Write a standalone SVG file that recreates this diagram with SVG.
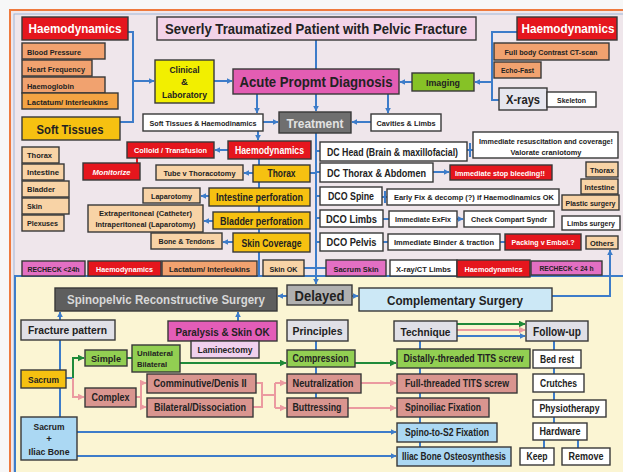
<svg xmlns="http://www.w3.org/2000/svg" width="623" height="472" viewBox="0 0 623 472">
<defs>
<style>
.t{font-family:"Liberation Sans",Arial,sans-serif;font-weight:bold;fill:#222;text-anchor:middle}
.l{text-anchor:start}
.wt{fill:#fff}
.bx{stroke:#383838;stroke-width:1.4}
.red{fill:#e5161d}
.sal{fill:#f1a26f}
.org{fill:#f4a443}
.gold{fill:#f6c111}
.tan{fill:#f8d3a6}
.wh{fill:#fff}
.gry{fill:#e0e0e7}
.grn{fill:#92cf52}
.pnk{fill:#e36fc3}
.rose{fill:#d9958f}
.lb{fill:#abd8f3}
.s7{font-size:7px}
.s10{font-size:10.5px}
.s9{font-size:9.5px}
.c{fill:none;stroke:#3d7cc9;stroke-width:2}
.cg{fill:none;stroke:#1f8a3a;stroke-width:2}
.cp{fill:none;stroke:#eb9aa0;stroke-width:2}
.cr{fill:none;stroke:#e5161d;stroke-width:2}
</style>
<marker id="ab" viewBox="0 0 10 10" refX="9" refY="5" markerWidth="6" markerHeight="6" markerUnits="userSpaceOnUse" orient="auto"><path d="M0,0 L10,5 L0,10 z" fill="#3d7cc9"/></marker>
<marker id="ag" viewBox="0 0 10 10" refX="9" refY="5" markerWidth="7" markerHeight="7" markerUnits="userSpaceOnUse" orient="auto"><path d="M0,0 L10,5 L0,10 z" fill="#1f8a3a"/></marker>
<marker id="ap" viewBox="0 0 10 10" refX="9" refY="5" markerWidth="7" markerHeight="7" markerUnits="userSpaceOnUse" orient="auto"><path d="M0,0 L10,5 L0,10 z" fill="#eb9aa0"/></marker>
</defs>

<rect width="623" height="472" fill="#f7f7f7"/>
<rect x="10" y="10" width="640" height="500" fill="#efe6eb" stroke="#ee7a3e" stroke-width="2"/>
<rect x="14" y="14" width="640" height="500" fill="none" stroke="#9fb6d8" stroke-width="1"/>
<rect x="15" y="276" width="640" height="230" fill="#fbf5d3" stroke="#3d7cc9" stroke-width="2"/>

<g id="connectors">
<path class="c" d="M128,32 H133 V122 H120"/>
<path class="c" d="M133,81 H154" marker-end="url(#ab)"/>
<path class="c" d="M214,81 H232" marker-end="url(#ab)"/>
<path class="c" d="M412,82 H400" marker-end="url(#ab)"/>
<path class="c" d="M316,40 V69"/>
<path class="c" d="M517,32 H492 V100 H499"/>
<path class="c" d="M492,82 H475" marker-end="url(#ab)"/>
<path class="c" d="M257,94 V113" marker-end="url(#ab)"/>
<path class="c" d="M316,94 V111" marker-end="url(#ab)"/>
<path class="c" d="M388,94 V113" marker-end="url(#ab)"/>
<path class="c" d="M263,122 H278" marker-end="url(#ab)"/>
<path class="c" d="M371,122 H352" marker-end="url(#ab)"/>
<path class="c" d="M258,131 V140" marker-end="url(#ab)"/>
<path class="c" d="M259,159 V276"/>
<path class="c" d="M316,133 V284" marker-end="url(#ab)"/>
<path class="c" d="M228,150 H215" marker-end="url(#ab)"/>
<path class="cr" d="M137,158 V163"/>
<path class="c" d="M253,173 H244" marker-end="url(#ab)"/>
<path class="c" d="M209,196 H201" marker-end="url(#ab)"/>
<path class="c" d="M213,221 H204" marker-end="url(#ab)"/>
<path class="c" d="M233,242 H223" marker-end="url(#ab)"/>
<path class="c" d="M310,173 H316"/>
<path class="c" d="M304,268 H326"/>
<path class="c" d="M316,151 H320 M316,172 H320 M316,196 H320 M316,218 H320 M316,242 H320"/>
<path class="c" d="M433,172 H449" marker-end="url(#ab)"/>
<path class="c" d="M467,150 H473 M470,143 V157"/>
<path class="c" d="M382,197 H387 M385,191 V203 M383,219 H389 M383,242 H388 M500,242 H505"/>
<path class="c" d="M457,219 H463" marker-end="url(#ab)"/>
<path class="c" d="M287,296 H278" marker-end="url(#ab)"/>
<path class="c" d="M352,296 H358" marker-end="url(#ab)"/>
<path class="c" d="M552,296 H610 V250" marker-end="url(#ab)"/>
<path class="c" d="M60,320 V312" marker-end="url(#ab)"/>
<path class="c" d="M238,321 V312" marker-end="url(#ab)"/>
<path class="c" d="M60,340 V417"/>
<path class="c" d="M66,378 H73"/>
<path class="cg" d="M73,378 V358 H84" marker-end="url(#ag)"/>
<path class="cp" d="M73,378 V397 H84" marker-end="url(#ap)"/>
<path class="cg" d="M127,358 H132"/>
<path class="cg" d="M180,363 H286" marker-end="url(#ag)"/>
<path class="cp" d="M136,397 H141 V383 H146" marker-end="url(#ap)"/>
<path class="cp" d="M141,397 V407 H146" marker-end="url(#ap)"/>
<path class="cp" d="M256,383 H262 V407 H253 M262,395 H275 M275,383 V408"/>
<path class="cp" d="M275,383 H286" marker-end="url(#ap)"/>
<path class="cp" d="M275,408 H286" marker-end="url(#ap)"/>
<path class="c" d="M316,341 V398"/>
<path class="cg" d="M355,363 H396" marker-end="url(#ag)"/>
<path class="cp" d="M361,383 H396" marker-end="url(#ap)"/>
<path class="cp" d="M348,408 H396" marker-end="url(#ap)"/>
<path class="c" d="M77,432 H396" marker-end="url(#ab)"/>
<path class="c" d="M77,456 H396" marker-end="url(#ab)"/>
<path class="c" d="M420,341 V447"/>
<path class="cg" d="M457,324 H525" marker-end="url(#ag)"/>
<path class="cp" d="M457,330 H525" marker-end="url(#ap)"/>
<path class="c" d="M457,336 H525" marker-end="url(#ab)"/>
<path class="c" d="M554,341 V423"/>
<path class="c" d="M544,440 V448 M578,440 V448"/>
</g>

<g id="title"><rect class="bx" x="157" y="17" width="319" height="23" fill="#f3d3e8"/><text class="t" x="316" y="34" font-size="14.5" textLength="302" lengthAdjust="spacingAndGlyphs">Severly Traumatized Patient with Pelvic Fracture</text></g>
<g id="haemo-left"><rect class="bx red" x="22" y="17" width="106" height="23"/><text class="t wt" x="75" y="33" font-size="12.5" textLength="93" lengthAdjust="spacingAndGlyphs">Haemodynamics</text></g>
<g id="blood-pressure"><rect class="bx sal" x="22" y="43" width="83" height="16"/><text class="t l s7" x="27" y="54.5" textLength="54" lengthAdjust="spacingAndGlyphs">Blood Pressure</text></g>
<g id="heart-frequency"><rect class="bx sal" x="22" y="60" width="70" height="16"/><text class="t l s7" x="27" y="71.5" textLength="58" lengthAdjust="spacingAndGlyphs">Heart Frequency</text></g>
<g id="haemoglobin"><rect class="bx sal" x="22" y="77" width="83" height="16"/><text class="t l s7" x="27" y="88.5" textLength="47" lengthAdjust="spacingAndGlyphs">Haemoglobin</text></g>
<g id="lactatum-top"><rect class="bx org" x="22" y="93" width="96" height="16"/><text class="t l s7" x="27" y="104.5" textLength="81" lengthAdjust="spacingAndGlyphs">Lactatum/ Interleukins</text></g>
<g id="soft-tissues"><rect class="bx gold" x="22" y="117" width="98" height="23"/><text class="t" x="70" y="134" font-size="13.5" textLength="67" lengthAdjust="spacingAndGlyphs">Soft Tissues</text></g>
<g id="clinical"><rect class="bx" x="155" y="60" width="59" height="43" fill="#f2ef00"/><text class="t s9" x="184.5" y="73" textLength="30" lengthAdjust="spacingAndGlyphs">Clinical</text><text class="t s9" x="184.5" y="85">&amp;</text><text class="t s9" x="184.5" y="98" textLength="45" lengthAdjust="spacingAndGlyphs">Laboratory</text></g>
<g id="soft-haemo"><rect class="bx wh" x="143" y="114" width="120" height="17"/><text class="t s7" x="203" y="125.5" textLength="107" lengthAdjust="spacingAndGlyphs">Soft Tissues &amp; Haemodinamics</text></g>
<g id="haemo-right"><rect class="bx red" x="517" y="17" width="100" height="23"/><text class="t wt" x="568" y="33" font-size="12.5" textLength="93" lengthAdjust="spacingAndGlyphs">Haemodynamics</text></g>
<g id="ct-scan"><rect class="bx sal" x="494" y="43" width="115" height="17"/><text class="t s7" x="551" y="54.5" textLength="93" lengthAdjust="spacingAndGlyphs">Full body Contrast CT-scan</text></g>
<g id="echo-fast"><rect class="bx sal" x="494" y="62" width="47" height="16"/><text class="t s7" x="517.5" y="73" textLength="33" lengthAdjust="spacingAndGlyphs">Echo-Fast</text></g>
<g id="x-rays"><rect class="bx" x="499" y="88" width="48" height="22" fill="#e6e6ee"/><text class="t" x="523" y="104" font-size="13.5" textLength="34" lengthAdjust="spacingAndGlyphs">X-rays</text></g>
<g id="skeleton"><rect class="bx wh" x="547" y="92" width="49" height="15"/><text class="t s7" x="571.5" y="102.5" textLength="29" lengthAdjust="spacingAndGlyphs">Skeleton</text></g>
<g id="imaging"><rect class="bx" x="412" y="73" width="62" height="18" fill="#86c226"/><text class="t s9" x="443" y="85.5" textLength="34" lengthAdjust="spacingAndGlyphs">Imaging</text></g>
<g id="acute"><rect class="bx" x="233" y="69" width="166" height="25" fill="#e35db3"/><text class="t" x="316" y="87" font-size="14.5" textLength="153" lengthAdjust="spacingAndGlyphs">Acute Propmt Diagnosis</text></g>
<g id="treatment"><rect class="bx" x="279" y="112" width="72" height="21" fill="#6f6f6f"/><text class="t" x="315" y="128" font-size="13.5" style="fill:#e2e2e2" textLength="57" lengthAdjust="spacingAndGlyphs">Treatment</text></g>
<g id="cavities"><rect class="bx wh" x="371" y="114" width="70" height="17"/><text class="t s7" x="406" y="125.5" textLength="59" lengthAdjust="spacingAndGlyphs">Cavities &amp; Limbs</text></g>

<g id="st-thorax"><rect class="bx tan" x="22" y="147" width="37" height="16"/><text class="t l s7" x="27" y="158" textLength="25" lengthAdjust="spacingAndGlyphs">Thorax</text></g>
<g id="st-intestine"><rect class="bx tan" x="22" y="164" width="42" height="16"/><text class="t l s7" x="27" y="175" textLength="32" lengthAdjust="spacingAndGlyphs">Intestine</text></g>
<g id="st-bladder"><rect class="bx tan" x="22" y="181" width="47" height="16"/><text class="t l s7" x="27" y="192" textLength="28" lengthAdjust="spacingAndGlyphs">Bladder</text></g>
<g id="st-skin"><rect class="bx tan" x="22" y="198" width="47" height="16"/><text class="t l s7" x="27" y="209" textLength="15" lengthAdjust="spacingAndGlyphs">Skin</text></g>
<g id="st-plexuses"><rect class="bx tan" x="22" y="215" width="42" height="16"/><text class="t l s7" x="27" y="226" textLength="31" lengthAdjust="spacingAndGlyphs">Plexuses</text></g>
<g id="colloid"><rect class="bx red" x="127" y="142" width="87" height="16"/><text class="t wt s7" x="170.5" y="153" textLength="73" lengthAdjust="spacingAndGlyphs">Colloid / Transfusion</text></g>
<g id="haemo-mid"><rect class="bx red" x="228" y="141" width="83" height="18"/><text class="t wt s10" x="269.5" y="154" textLength="69" lengthAdjust="spacingAndGlyphs">Haemodynamics</text></g>
<g id="monitorize"><rect class="bx red" x="83" y="163" width="57" height="17"/><text class="t wt" x="111.5" y="174.5" font-size="8" font-style="italic" textLength="38" lengthAdjust="spacingAndGlyphs">Monitorize</text></g>
<g id="tube"><rect class="bx tan" x="156" y="165" width="87" height="15"/><text class="t s7" x="199.5" y="175.5" textLength="72" lengthAdjust="spacingAndGlyphs">Tube v Thoracotomy</text></g>
<g id="thorax-gold"><rect class="bx gold" x="253" y="165" width="57" height="17"/><text class="t s10" x="281.5" y="177" textLength="28" lengthAdjust="spacingAndGlyphs">Thorax</text></g>
<g id="laparotomy"><rect class="bx tan" x="143" y="188" width="57" height="15"/><text class="t s7" x="171.5" y="198.5" textLength="41" lengthAdjust="spacingAndGlyphs">Laparotomy</text></g>
<g id="intestine-perf"><rect class="bx gold" x="209" y="188" width="101" height="18"/><text class="t s10" x="259.5" y="201" textLength="87" lengthAdjust="spacingAndGlyphs">Intestine perforation</text></g>
<g id="extraperitoneal"><rect class="bx tan" x="88" y="205" width="115" height="27"/><text class="t s7" x="145.5" y="215.5" textLength="93" lengthAdjust="spacingAndGlyphs">Extraperitoneal (Catheter)</text><text class="t s7" x="145.5" y="227" textLength="100" lengthAdjust="spacingAndGlyphs">Intraperitoneal (Laparotomy)</text></g>
<g id="bladder-perf"><rect class="bx gold" x="213" y="212" width="97" height="17"/><text class="t s10" x="261.5" y="224.5" textLength="83" lengthAdjust="spacingAndGlyphs">Bladder perforation</text></g>
<g id="bone-tendons"><rect class="bx tan" x="151" y="233" width="71" height="16"/><text class="t s7" x="186.5" y="244" textLength="56" lengthAdjust="spacingAndGlyphs">Bone &amp; Tendons</text></g>
<g id="skin-coverage"><rect class="bx gold" x="233" y="233" width="77" height="19"/><text class="t s10" x="271.5" y="246.5" textLength="60" lengthAdjust="spacingAndGlyphs">Skin Coverage</text></g>
<g id="recheck-left"><rect class="bx pnk" x="22" y="261" width="63" height="15"/><text class="t s7" x="53.5" y="271.5" textLength="52" lengthAdjust="spacingAndGlyphs">RECHECK &lt;24h</text></g>
<g id="haemo-bl"><rect class="bx red" x="88" y="261" width="73" height="15"/><text class="t wt" x="124.5" y="271.5" font-size="7.5" textLength="57" lengthAdjust="spacingAndGlyphs">Haemodynamics</text></g>
<g id="lactatum-bottom"><rect class="bx sal" x="162" y="261" width="95" height="15"/><text class="t s7" x="209.5" y="271.5" textLength="81" lengthAdjust="spacingAndGlyphs">Lactatum/ Interleukins</text></g>
<g id="skin-ok"><rect class="bx tan" x="263" y="260" width="41" height="16"/><text class="t s7" x="283.5" y="271.5" textLength="28" lengthAdjust="spacingAndGlyphs">Skin OK</text></g>

<g id="dc-head"><rect class="bx wh" x="320" y="142" width="147" height="19"/><text class="t s10" x="392.5" y="156" textLength="131" lengthAdjust="spacingAndGlyphs">DC Head (Brain &amp; maxillofacial)</text></g>
<g id="resuscitation"><rect class="bx wh" x="473" y="132" width="145" height="26"/><text class="t s7" x="546" y="143.5" textLength="134" lengthAdjust="spacingAndGlyphs">Immediate resuscitation and coverage!</text><text class="t s7" x="546" y="154.5" textLength="71" lengthAdjust="spacingAndGlyphs">Valorate craniotomy</text></g>
<g id="dc-thorax"><rect class="bx wh" x="320" y="163" width="113" height="19"/><text class="t s10" x="376.5" y="177" textLength="99" lengthAdjust="spacingAndGlyphs">DC Thorax &amp; Abdomen</text></g>
<g id="stop-bleeding"><rect class="bx red" x="450" y="165" width="102" height="15"/><text class="t wt s7" x="500" y="175.5" textLength="90" lengthAdjust="spacingAndGlyphs">Immediate stop bleeding!!</text></g>
<g id="dco-spine"><rect class="bx wh" x="320" y="187" width="62" height="18"/><text class="t s10" x="351" y="200" textLength="46" lengthAdjust="spacingAndGlyphs">DCO Spine</text></g>
<g id="early-fix"><rect class="bx wh" x="387" y="189" width="172" height="16"/><text class="t s7" x="474" y="200" textLength="160" lengthAdjust="spacingAndGlyphs">Early Fix &amp; decomp (?) if Haemodinamics OK</text></g>
<g id="dco-limbs"><rect class="bx wh" x="320" y="210" width="63" height="17"/><text class="t s10" x="351.5" y="222.5" textLength="51" lengthAdjust="spacingAndGlyphs">DCO Limbs</text></g>
<g id="exfix"><rect class="bx wh" x="389" y="211" width="68" height="16"/><text class="t s7" x="423" y="222" textLength="56" lengthAdjust="spacingAndGlyphs">Immediate ExFix</text></g>
<g id="compart"><rect class="bx wh" x="464" y="211" width="90" height="16"/><text class="t s7" x="509" y="222" textLength="76" lengthAdjust="spacingAndGlyphs">Check Compart Syndr</text></g>
<g id="dco-pelvis"><rect class="bx wh" x="320" y="233" width="63" height="18"/><text class="t s10" x="351.5" y="246" textLength="50" lengthAdjust="spacingAndGlyphs">DCO Pelvis</text></g>
<g id="binder"><rect class="bx wh" x="388" y="234" width="112" height="16"/><text class="t s7" x="444" y="245" textLength="100" lengthAdjust="spacingAndGlyphs">Immediate Binder &amp; traction</text></g>
<g id="packing"><rect class="bx red" x="505" y="234" width="76" height="16"/><text class="t wt" x="543" y="245" font-size="7.5" textLength="63" lengthAdjust="spacingAndGlyphs">Packing v Embol.?</text></g>
<g id="sacrum-skin"><rect class="bx pnk" x="326" y="260" width="60" height="16"/><text class="t s7" x="356" y="271.5" textLength="45" lengthAdjust="spacingAndGlyphs">Sacrum Skin</text></g>
<g id="xray-ct"><rect class="bx wh" x="390" y="260" width="67" height="16"/><text class="t s7" x="423.5" y="271.5" textLength="55" lengthAdjust="spacingAndGlyphs">X-ray/CT Limbs</text></g>
<g id="haemo-br"><rect class="bx red" x="457" y="260" width="73" height="17"/><text class="t wt" x="493.5" y="272" font-size="7.5" textLength="58" lengthAdjust="spacingAndGlyphs">Haemodynamics</text></g>
<g id="recheck-right"><rect class="bx pnk" x="531" y="261" width="71" height="14"/><text class="t s7" x="566.5" y="271" textLength="54" lengthAdjust="spacingAndGlyphs">RECHECK &lt; 24 h</text></g>
<g id="r-thorax"><rect class="bx tan" x="586" y="162" width="32" height="15"/><text class="t s7" x="602" y="172.5" textLength="24" lengthAdjust="spacingAndGlyphs">Thorax</text></g>
<g id="r-intestine"><rect class="bx tan" x="581" y="179" width="37" height="15"/><text class="t s7" x="599.5" y="189.5" textLength="30" lengthAdjust="spacingAndGlyphs">Intestine</text></g>
<g id="r-plastic"><rect class="bx tan" x="562" y="195" width="57" height="15"/><text class="t s7" x="590.5" y="205.5" textLength="50" lengthAdjust="spacingAndGlyphs">Plastic surgery</text></g>
<g id="r-limbs"><rect class="bx wh" x="562" y="216" width="58" height="14"/><text class="t s7" x="591" y="226" textLength="48" lengthAdjust="spacingAndGlyphs">Limbs surgery</text></g>
<g id="r-others"><rect class="bx tan" x="586" y="236" width="32" height="13"/><text class="t s7" x="602" y="245.5" textLength="24" lengthAdjust="spacingAndGlyphs">Others</text></g>

<g id="spinopelvic"><rect class="bx" x="55" y="288" width="222" height="23" fill="#5e5e5e"/><text class="t" x="166" y="304" font-size="13.5" style="fill:#d8d8d8" textLength="198" lengthAdjust="spacingAndGlyphs">Spinopelvic Reconstructive Surgery</text></g>
<g id="delayed"><rect class="bx" x="287" y="285" width="65" height="20" fill="#b0b0b0"/><text class="t" x="319.5" y="300.5" font-size="14.5" textLength="50" lengthAdjust="spacingAndGlyphs">Delayed</text></g>
<g id="complementary"><rect class="bx" x="359" y="288" width="193" height="23" fill="#cce8f6"/><text class="t" x="455" y="304.5" font-size="13.5" textLength="136" lengthAdjust="spacingAndGlyphs">Complementary Surgery</text></g>
<g id="fracture-pattern"><rect class="bx gry" x="21" y="320" width="94" height="20"/><text class="t" x="67.5" y="334" font-size="11" textLength="79" lengthAdjust="spacingAndGlyphs">Fracture pattern</text></g>
<g id="paralysis"><rect class="bx" x="168" y="321" width="109" height="20" fill="#e35db8"/><text class="t" x="222.5" y="335.5" font-size="11.5" textLength="94" lengthAdjust="spacingAndGlyphs">Paralysis &amp; Skin OK</text></g>
<g id="laminectomy"><rect class="bx" x="191" y="341" width="68" height="17" fill="#f0d0ee"/><text class="t s9" x="225" y="353" textLength="55" lengthAdjust="spacingAndGlyphs">Laminectomy</text></g>
<g id="sacrum"><rect class="bx gold" x="21" y="370" width="45" height="18"/><text class="t s9" x="43.5" y="382.5" textLength="31" lengthAdjust="spacingAndGlyphs">Sacrum</text></g>
<g id="sacrum-iliac"><rect class="bx lb" x="21" y="417" width="56" height="43"/><text class="t s9" x="49" y="430" textLength="31" lengthAdjust="spacingAndGlyphs">Sacrum</text><text class="t s9" x="49" y="442">+</text><text class="t s9" x="49" y="455" textLength="41" lengthAdjust="spacingAndGlyphs">Iliac Bone</text></g>
<g id="simple"><rect class="bx grn" x="85" y="350" width="42" height="16"/><text class="t s9" x="106" y="361.5" textLength="30" lengthAdjust="spacingAndGlyphs">Simple</text></g>
<g id="uni-bilateral"><rect class="bx grn" x="132" y="345" width="48" height="27"/><text class="t l s7" x="137" y="356" textLength="36" lengthAdjust="spacingAndGlyphs">Unilateral</text><text class="t l s7" x="137" y="367" textLength="30" lengthAdjust="spacingAndGlyphs">Bilateral</text></g>
<g id="complex"><rect class="bx rose" x="85" y="388" width="51" height="19"/><text class="t" x="110.5" y="401" font-size="10" textLength="38" lengthAdjust="spacingAndGlyphs">Complex</text></g>
<g id="comminutive"><rect class="bx rose" x="147" y="374" width="109" height="19"/><text class="t" x="200" y="387" font-size="10" textLength="93" lengthAdjust="spacingAndGlyphs">Comminutive/Denis II</text></g>
<g id="bilateral-dissoc"><rect class="bx rose" x="147" y="398" width="106" height="19"/><text class="t" x="200" y="411" font-size="10" textLength="92" lengthAdjust="spacingAndGlyphs">Bilateral/Dissociation</text></g>
<g id="principles"><rect class="bx gry" x="287" y="320" width="61" height="21"/><text class="t" x="317.5" y="335" font-size="11.5" textLength="50" lengthAdjust="spacingAndGlyphs">Principles</text></g>
<g id="compression"><rect class="bx grn" x="287" y="350" width="68" height="17"/><text class="t" x="320.5" y="362" font-size="10" textLength="56" lengthAdjust="spacingAndGlyphs">Compression</text></g>
<g id="neutralization"><rect class="bx rose" x="287" y="374" width="74" height="19"/><text class="t" x="323" y="387" font-size="10" textLength="61" lengthAdjust="spacingAndGlyphs">Neutralization</text></g>
<g id="buttressing"><rect class="bx rose" x="287" y="398" width="61" height="19"/><text class="t" x="317" y="411" font-size="10" textLength="49" lengthAdjust="spacingAndGlyphs">Buttressing</text></g>
<g id="technique"><rect class="bx gry" x="394" y="321" width="63" height="20"/><text class="t" x="425.5" y="335.5" font-size="11.5" textLength="50" lengthAdjust="spacingAndGlyphs">Technique</text></g>
<g id="follow-up"><rect class="bx gry" x="526" y="321" width="62" height="20"/><text class="t" x="557" y="336" font-size="12.5" textLength="48" lengthAdjust="spacingAndGlyphs">Follow-up</text></g>
<g id="distally"><rect class="bx grn" x="397" y="349" width="133" height="19"/><text class="t" x="463.5" y="362" font-size="10" textLength="120" lengthAdjust="spacingAndGlyphs">Distally-threaded TITS screw</text></g>
<g id="full-threaded"><rect class="bx rose" x="397" y="374" width="120" height="19"/><text class="t" x="457" y="387" font-size="10" textLength="104" lengthAdjust="spacingAndGlyphs">Full-threaded TITS screw</text></g>
<g id="spinoiliac"><rect class="bx rose" x="397" y="398" width="92" height="19"/><text class="t" x="443" y="411" font-size="10" textLength="76" lengthAdjust="spacingAndGlyphs">Spinoiliac Fixation</text></g>
<g id="spino-s2"><rect class="bx lb" x="397" y="423" width="100" height="19"/><text class="t" x="447" y="436" font-size="10" textLength="84" lengthAdjust="spacingAndGlyphs">Spino-to-S2 Fixation</text></g>
<g id="iliac-osteo"><rect class="bx lb" x="397" y="447" width="114" height="19"/><text class="t" x="454" y="460" font-size="10" textLength="104" lengthAdjust="spacingAndGlyphs">Iliac Bone Osteosynthesis</text></g>
<g id="bed-rest"><rect class="bx wh" x="533" y="350" width="48" height="18"/><text class="t" x="557" y="363" font-size="10" textLength="34" lengthAdjust="spacingAndGlyphs">Bed rest</text></g>
<g id="crutches"><rect class="bx wh" x="533" y="374" width="51" height="18"/><text class="t" x="558.5" y="387" font-size="10" textLength="37" lengthAdjust="spacingAndGlyphs">Crutches</text></g>
<g id="physiotherapy"><rect class="bx wh" x="533" y="400" width="73" height="17"/><text class="t" x="569.5" y="412" font-size="10" textLength="60" lengthAdjust="spacingAndGlyphs">Physiotherapy</text></g>
<g id="hardware"><rect class="bx wh" x="533" y="423" width="54" height="17"/><text class="t" x="560" y="435" font-size="10" textLength="41" lengthAdjust="spacingAndGlyphs">Hardware</text></g>
<g id="keep"><rect class="bx wh" x="520" y="448" width="34" height="17"/><text class="t" x="537" y="460" font-size="10" textLength="21" lengthAdjust="spacingAndGlyphs">Keep</text></g>
<g id="remove"><rect class="bx wh" x="562" y="448" width="48" height="17"/><text class="t" x="586" y="460" font-size="10" textLength="35" lengthAdjust="spacingAndGlyphs">Remove</text></g>
</svg>
